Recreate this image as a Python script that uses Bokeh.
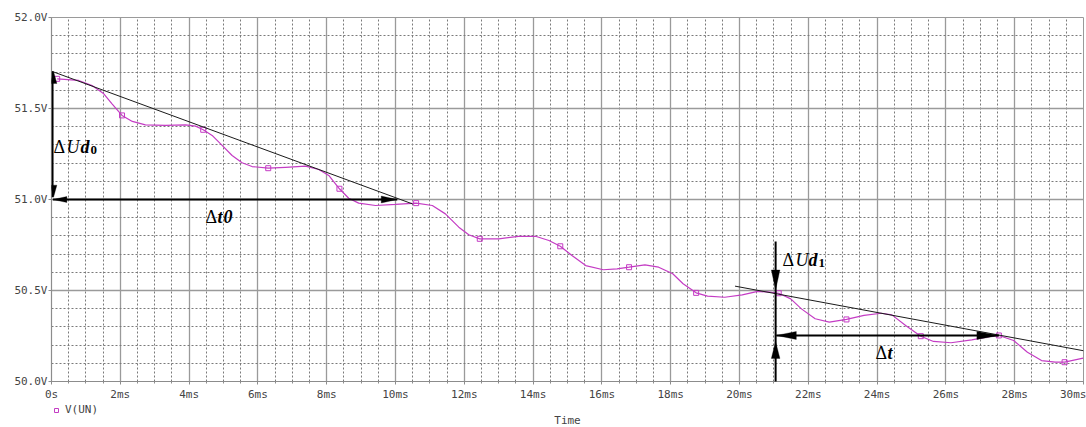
from bokeh.plotting import figure
from bokeh.layouts import column
from bokeh.models import (Range1d, FixedTicker, Legend, LegendItem, Arrow, PolyAnnotation)
from bokeh.core.properties import value
from bokeh.embed import file_html
from bokeh.resources import INLINE

# ---------------- data ----------------
time_ms = [0.165, 0.79, 1.18, 1.52, 1.76, 2.05, 2.35, 2.73, 3.31, 3.90, 4.19, 4.41, 4.67,
           4.96, 5.25, 5.54, 5.83, 6.30, 6.80, 7.38, 7.77, 8.06, 8.37, 8.64, 8.93, 9.42,
           10.00, 10.60, 11.07, 11.45, 11.84, 12.13, 12.45, 13.00, 13.58, 14.07, 14.46,
           14.79, 15.13, 15.53, 16.04, 16.44, 16.79, 17.25, 17.65, 18.06, 18.36, 18.74,
           19.07, 19.57, 20.08, 20.53, 20.89, 21.14, 21.49, 21.80, 22.20, 22.61, 23.11,
           23.62, 24.12, 24.43, 24.83, 25.27, 25.64, 26.15, 26.75, 27.26, 27.54, 27.97,
           28.37, 28.78, 29.18, 29.45, 29.99]
v_un = [51.663, 51.654, 51.626, 51.581, 51.526, 51.462, 51.429, 51.410, 51.407, 51.410,
        51.403, 51.383, 51.352, 51.297, 51.242, 51.202, 51.181, 51.172, 51.177, 51.183,
        51.165, 51.132, 51.059, 51.007, 50.980, 50.967, 50.973, 50.980, 50.967, 50.921,
        50.848, 50.806, 50.784, 50.784, 50.797, 50.798, 50.775, 50.743, 50.692, 50.637,
        50.614, 50.619, 50.628, 50.641, 50.628, 50.592, 50.537, 50.487, 50.469, 50.463,
        50.476, 50.495, 50.491, 50.485, 50.454, 50.399, 50.345, 50.326, 50.341, 50.363,
        50.375, 50.366, 50.308, 50.249, 50.220, 50.213, 50.229, 50.247, 50.253, 50.225,
        50.161, 50.115, 50.106, 50.106, 50.128]

marker_t = [0.165, 2.05, 4.41, 6.30, 8.37, 10.60, 12.45, 14.79, 16.79, 18.74, 21.14,
            23.11, 25.27, 27.54, 29.45]
marker_v = [51.663, 51.462, 51.383, 51.172, 51.059, 50.980, 50.784, 50.743, 50.628,
            50.487, 50.485, 50.341, 50.249, 50.253, 50.106]

# tangent lines
tangent0_t = [0.0, 10.49]
tangent0_v = [51.705, 50.976]
tangent1_t = [19.87, 30.0]
tangent1_v = [50.524, 50.169]

x_ticks = [0, 2, 4, 6, 8, 10, 12, 14, 16, 18, 20, 22, 24, 26, 28, 30]
x_tick_labels = ["0s", "2ms", "4ms", "6ms", "8ms", "10ms", "12ms", "14ms", "16ms",
                 "18ms", "20ms", "22ms", "24ms", "26ms", "28ms", "30ms"]
y_ticks = [50.0, 50.5, 51.0, 51.5, 52.0]
y_tick_labels = ["50.0V", "50.5V", "51.0V", "51.5V", "52.0V"]
x_minor = [i * 0.5 for i in range(61)]
y_minor = [50 + i * 0.1 for i in range(21)]

series_name = "V(UN)"
x_title = "Time"

# ---------------- main figure ----------------
X0, X1, Y0, Y1 = 0, 30, 50, 52
FW, FH = 1032, 364
p = figure(frame_width=FW, frame_height=FH, x_range=Range1d(X0, X1), y_range=Range1d(Y0, Y1),
           output_backend="svg", toolbar_location=None,
           min_border_left=51, min_border_right=3, min_border_top=17, min_border_bottom=22)
p.background_fill_color = "white"
p.border_fill_color = "white"
p.outline_line_color = "#9a9a9a"

tick_font = "DejaVu Sans Mono"
for ax in (p.xaxis[0], p.yaxis[0]):
    ax.axis_line_color = "#8c8c8c"
    ax.axis_line_width = 1.2
    ax.major_tick_line_color = "#8c8c8c"
    ax.minor_tick_line_color = "#8c8c8c"
    ax.major_tick_in = 0
    ax.major_tick_out = 3
    ax.minor_tick_in = 0
    ax.minor_tick_out = 2
    ax.major_label_text_font = tick_font
    ax.major_label_text_font_size = "11px"
    ax.major_label_text_color = "#444444"

p.xaxis.ticker = FixedTicker(ticks=x_ticks, minor_ticks=x_minor)
p.yaxis.ticker = FixedTicker(ticks=y_ticks, minor_ticks=y_minor)
p.xaxis.major_label_overrides = dict(zip(x_ticks, x_tick_labels))
p.yaxis.major_label_overrides = dict(zip(y_ticks, y_tick_labels))
p.xaxis.major_label_standoff = 3
p.yaxis.major_label_standoff = 1
p.yaxis.minor_tick_out = 0

p.xgrid.ticker = FixedTicker(ticks=x_ticks, minor_ticks=x_minor)
p.ygrid.ticker = FixedTicker(ticks=y_ticks, minor_ticks=y_minor)
for g in (p.xgrid[0], p.ygrid[0]):
    g.grid_line_color = "#9a9a9a"
    g.grid_line_width = 1.3
    g.minor_grid_line_color = "#7a7a7a"
    g.minor_grid_line_dash = "2 2"
    g.minor_grid_line_width = 1

# ---------------- series ----------------
curve_color = "#c43cc4"
p.line(time_ms, v_un, line_color=curve_color, line_width=1.2)
p.scatter(marker_t, marker_v, marker="square", size=5, fill_color=None,
          line_color=curve_color, line_width=1)

p.line(tangent0_t, tangent0_v, line_color="#1a1a1a", line_width=1)
p.line(tangent1_t, tangent1_v, line_color="#1a1a1a", line_width=1)

# ---------------- annotation arrows ----------------
XS = (X1 - X0) / FW   # ms per pixel
YS = (Y1 - Y0) / FH   # V per pixel

# shafts: (t_start, v_start, t_end, v_end)
shafts = [
    (0.03, 51.703, 0.03, 51.013),    # dUd0
    (0.04, 51.0, 10.05, 51.0),       # dt0
    (21.05, 50.769, 21.05, 49.951),  # dUd1
    (21.07, 50.253, 27.54, 50.253),  # dt
]
for (a, b, c, d) in shafts:
    p.add_layout(Arrow(x_start=a, y_start=b, x_end=c, y_end=d, start=None, end=None,
                       line_color="black", line_width=2))

# heads: (tip_t, tip_v, direction, length_px, halfwidth_px)
heads = [
    (0.06, 51.703, "up", 12, 3.3),
    (0.06, 51.013, "down", 12, 3.3),
    (0.04, 51.0, "left", 14, 3),
    (10.05, 51.0, "right", 16, 3.5),
    (21.05, 50.503, "down", 20, 4.3),
    (21.05, 50.220, "up", 17, 4.3),
    (21.07, 50.253, "left", 20, 4),
    (27.54, 50.253, "right", 22, 4),
]
for (tx, ty, dr, L, W) in heads:
    if dr == "up":
        xs = [tx, tx - W * XS, tx + W * XS]; ys = [ty, ty - L * YS, ty - L * YS]
    elif dr == "down":
        xs = [tx, tx - W * XS, tx + W * XS]; ys = [ty, ty + L * YS, ty + L * YS]
    elif dr == "left":
        xs = [tx, tx + L * XS, tx + L * XS]; ys = [ty, ty + W * YS, ty - W * YS]
    else:
        xs = [tx, tx - L * XS, tx - L * XS]; ys = [ty, ty + W * YS, ty - W * YS]
    p.add_layout(PolyAnnotation(xs=xs, ys=ys, fill_color="black", fill_alpha=1,
                                line_color="black", line_width=1))

# ---------------- annotation texts ----------------
serif = value("Liberation Serif")
# (anchor_t, anchor_v, [(text, dx, dy, size, style), ...])
labels = [
    (0.06, 51.291, [("\u0394", 0, 0, "18px", "normal"), ("U", 13, 0, "18px", "italic"),
                    ("d", 27, 0, "18px", "bold italic"), ("0", 37, 3, "13px", "bold")]),
    (4.477, 50.904, [("\u0394", 0, 0, "18px", "normal"), ("t", 12, 0, "18px", "bold italic"),
                     ("0", 18, 0, "18px", "bold italic")]),
    (21.25, 50.670, [("\u0394", 0, 0, "18px", "normal"), ("U", 13, 0, "18px", "italic"),
                     ("d", 26, 0, "18px", "bold italic"), ("1", 36, 3, "13px", "bold")]),
    (23.953, 50.154, [("\u0394", 0, 0, "18px", "normal"), ("t", 12, 0, "18px", "bold italic")]),
]
for (lt, lv, pieces) in labels:
    for (s, dx, dy, fs, st) in pieces:
        p.text([lt], [lv], text=[s], x_offset=dx, y_offset=dy, text_font=serif,
               text_font_size=fs, text_font_style=st, text_color="black",
               text_align="left", text_baseline="alphabetic")

# ---------------- footer strip: legend + x title ----------------
# its frame is aligned with the main frame by the column layout
FOOT_H = 24
f = figure(frame_width=FW, height=FOOT_H, x_range=Range1d(X0, X1), y_range=Range1d(0, FOOT_H),
           output_backend="svg", toolbar_location=None,
           min_border_left=51, min_border_right=3, min_border_top=0, min_border_bottom=0)
f.axis.visible = False
f.grid.visible = False
f.outline_line_color = None
f.background_fill_color = "white"
f.border_fill_color = "white"

# legend glyph source: one point kept outside the strip's visible range
legend_glyph = f.scatter([X0 - 5], [-5], marker="square", size=5, fill_color=None,
                         line_color=curve_color, line_width=1)
legend = Legend(items=[LegendItem(label=series_name, renderers=[legend_glyph])],
                location=(0, 11), orientation="horizontal",
                padding=0, margin=0, spacing=0, label_standoff=4,
                glyph_width=10, glyph_height=10, label_height=10,
                background_fill_alpha=0, border_line_color=None,
                label_text_font=tick_font, label_text_font_size="11px",
                label_text_color="#444444")
f.add_layout(legend, "center")
f.text([(X0 + X1) / 2], [7], text=[x_title], text_font=value(tick_font),
       text_font_size="11px", text_color="#444444", text_align="center",
       text_baseline="middle")

layout = column(p, f, spacing=0)
open("out.html", "w").write(file_html(layout, INLINE))
